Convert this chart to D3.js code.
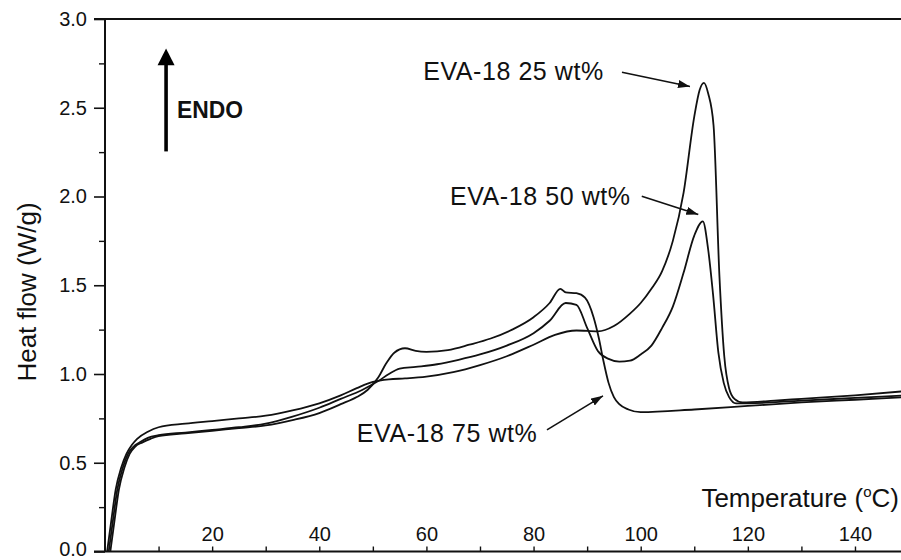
<!DOCTYPE html>
<html>
<head>
<meta charset="utf-8">
<script src="https://cdn.jsdelivr.net/npm/d3@7"></script>
<style>
  html, body { margin: 0; padding: 0; background: #fff; }
  svg { display: block; }
  text { font-family: "Liberation Sans", Arial, Helvetica, sans-serif; fill: #111; }
</style>
</head>
<body>
<svg id="chart" width="901" height="560"></svg>
<script>
// ---------- data ----------
const temps25 = [0.4, 1.2, 2, 3, 4, 5, 6, 8, 10, 15, 20, 25, 30, 35, 40, 44, 47, 50, 53, 56, 60, 65, 70, 75, 80, 84, 88, 92, 95, 98, 100, 102, 104, 106, 108, 110, 111, 111.8, 112.6, 113.6, 114.7, 115.6, 116.5, 117.5, 119, 125, 130, 140, 150];
const heat25  = [0, 0.18, 0.35, 0.47, 0.55, 0.6, 0.635, 0.675, 0.7, 0.72, 0.735, 0.75, 0.765, 0.795, 0.835, 0.88, 0.92, 0.955, 0.97, 0.975, 0.985, 1.01, 1.05, 1.1, 1.165, 1.22, 1.245, 1.24, 1.27, 1.34, 1.40, 1.48, 1.58, 1.75, 2.02, 2.45, 2.6, 2.64, 2.58, 2.4, 1.55, 1.1, 0.92, 0.86, 0.84, 0.85, 0.86, 0.88, 0.905];

const temps50 = [0.7, 1.5, 2.3, 3.3, 4.3, 5.3, 6.5, 8, 10, 15, 20, 25, 30, 35, 40, 44, 48, 51, 53, 55, 58, 62, 66, 70, 75, 80, 83, 86, 88, 90, 92, 94, 96, 98, 100, 102, 104, 106, 108, 110, 111.6, 112.6, 113.5, 114.5, 115.5, 116.5, 117.8, 120, 130, 140, 150];
const heat50  = [0, 0.18, 0.35, 0.47, 0.55, 0.59, 0.615, 0.64, 0.655, 0.67, 0.685, 0.70, 0.72, 0.76, 0.81, 0.86, 0.91, 0.96, 1.0, 1.03, 1.04, 1.055, 1.08, 1.11, 1.16, 1.23, 1.30, 1.40, 1.39, 1.26, 1.13, 1.085, 1.07, 1.075, 1.11, 1.16, 1.26, 1.38, 1.57, 1.78, 1.86, 1.70, 1.45, 1.12, 0.95, 0.87, 0.835, 0.835, 0.85, 0.865, 0.88];

const temps75 = [1.0, 1.8, 2.6, 3.6, 4.6, 5.6, 7, 8.5, 10, 15, 20, 25, 30, 35, 40, 44, 47, 49, 51, 52.5, 54, 56, 58, 60, 64, 68, 72, 76, 80, 83, 85, 86, 88, 89.6, 91.2, 92.2, 93, 94, 95, 96, 97.7, 100, 110, 120, 130, 140, 150];
const heat75  = [0, 0.18, 0.35, 0.47, 0.55, 0.59, 0.615, 0.635, 0.65, 0.665, 0.68, 0.695, 0.71, 0.74, 0.78, 0.83, 0.87, 0.91, 0.98, 1.06, 1.12, 1.145, 1.13, 1.125, 1.135, 1.165, 1.2, 1.25, 1.32, 1.40, 1.48, 1.46, 1.455, 1.43, 1.32, 1.2, 1.08, 0.95, 0.87, 0.83, 0.80, 0.785, 0.80, 0.82, 0.84, 0.855, 0.87];

const xMajorTicks = [20, 40, 60, 80, 100, 120, 140];
const xMinorTicks = [10, 30, 50, 70, 90, 110, 130, 150];
const yMajorTicks = [0.0, 0.5, 1.0, 1.5, 2.0, 2.5, 3.0];
const yMinorTicks = [0.25, 0.75, 1.25, 1.75, 2.25, 2.75];

const seriesLabels = ["EVA-18 25 wt%", "EVA-18 50 wt%", "EVA-18 75 wt%"];
// label anchor (T, v) and arrow from (T, v) to (T, v), in data units
const labelAt    = [[59.4, 2.654], [64.4, 1.954], [47.0, 0.618]];
const arrowFrom  = [[96.5, 2.70], [100.2, 2.001], [82.5, 0.685]];
const arrowTo    = [[109.2, 2.62], [110.75, 1.898], [92.96, 0.877]];

const xTitle = "Temperature (";
const yTitle = "Heat flow (W/g)";
const endoLabel = "ENDO";

// ---------- drawing ----------
const svg = d3.select("#chart");
const x = d3.scaleLinear().domain([0, 150]).range([105, 105 + 150 * 5.357]);
const y = d3.scaleLinear().domain([0, 3]).range([551.5, 19]);

const defs = svg.append("defs");
defs.append("marker").attr("id", "ah").attr("viewBox", "0 0 12 8")
  .attr("refX", 12).attr("refY", 4).attr("markerWidth", 12).attr("markerHeight", 8)
  .attr("markerUnits", "userSpaceOnUse").attr("orient", "auto")
  .append("path").attr("d", "M0,0 L12,4 L0,8 Z").attr("fill", "#111");

// frame: left, top, bottom
svg.append("line").attr("x1", x(0)).attr("x2", x(0)).attr("y1", y(3)).attr("y2", y(0))
  .attr("stroke", "#111").attr("stroke-width", 2);
svg.append("line").attr("x1", x(0) - 11).attr("x2", 901).attr("y1", y(3)).attr("y2", y(3))
  .attr("stroke", "#111").attr("stroke-width", 2.2);
svg.append("line").attr("x1", x(0) - 11).attr("x2", 901).attr("y1", y(0)).attr("y2", y(0))
  .attr("stroke", "#111").attr("stroke-width", 2.2);

// y axis ticks (outward)
const yAxis = svg.append("g").attr("transform", `translate(${x(0)},0)`)
  .call(d3.axisLeft(y).tickValues(yMajorTicks).tickFormat(d3.format(".1f")).tickSize(11).tickPadding(7));
yAxis.select(".domain").remove();
yAxis.selectAll(".tick line").attr("stroke", "#111").attr("stroke-width", 1.6);
yAxis.selectAll(".tick text").attr("font-size", 20).attr("fill", "#111")
  .attr("font-family", "Liberation Sans, Arial, sans-serif");
yAxis.selectAll(".tick").filter(d => d === 0).select("text").attr("dy", "0.2em");
const yMinor = svg.append("g").attr("transform", `translate(${x(0)},0)`)
  .call(d3.axisLeft(y).tickValues(yMinorTicks).tickFormat("").tickSize(6));
yMinor.select(".domain").remove();
yMinor.selectAll(".tick line").attr("stroke", "#111").attr("stroke-width", 1.4);

// x axis ticks (inward) with labels inside the plot
const xAxis = svg.append("g").attr("transform", `translate(0,${y(0)})`)
  .call(d3.axisTop(x).tickValues(xMajorTicks).tickFormat(d3.format("d")).tickSize(5).tickPadding(6));
xAxis.select(".domain").remove();
xAxis.selectAll(".tick line").attr("stroke", "#111").attr("stroke-width", 1.4);
xAxis.selectAll(".tick text").attr("font-size", 20).attr("fill", "#111")
  .attr("font-family", "Liberation Sans, Arial, sans-serif");
const xMinor = svg.append("g").attr("transform", `translate(0,${y(0)})`)
  .call(d3.axisTop(x).tickValues(xMinorTicks).tickFormat("").tickSize(5));
xMinor.select(".domain").remove();
xMinor.selectAll(".tick line").attr("stroke", "#111").attr("stroke-width", 1.4);

// curves
const line = d3.line().x(d => x(d[0])).y(d => y(d[1])).curve(d3.curveMonotoneX);
const series = [
  d3.zip(temps25, heat25),
  d3.zip(temps50, heat50),
  d3.zip(temps75, heat75)
];
svg.append("g").selectAll("path").data(series).join("path")
  .attr("d", line).attr("fill", "none").attr("stroke", "#111")
  .attr("stroke-width", 1.8).attr("stroke-linejoin", "round");

// annotation labels and arrows
seriesLabels.forEach((lab, i) => {
  svg.append("text").attr("x", x(labelAt[i][0])).attr("y", y(labelAt[i][1]))
    .attr("font-size", 25).attr("textLength", 180).attr("lengthAdjust", "spacing").text(lab);
  svg.append("line")
    .attr("x1", x(arrowFrom[i][0])).attr("y1", y(arrowFrom[i][1]))
    .attr("x2", x(arrowTo[i][0])).attr("y2", y(arrowTo[i][1]))
    .attr("stroke", "#111").attr("stroke-width", 1.6).attr("marker-end", "url(#ah)");
});

// ENDO arrow
const endoX = x(11.4);
svg.append("line").attr("x1", endoX).attr("x2", endoX).attr("y1", y(2.254)).attr("y2", y(2.76))
  .attr("stroke", "#000").attr("stroke-width", 3.6);
svg.append("path")
  .attr("d", `M${endoX},${y(2.834)} L${endoX - 8.5},${y(2.74)} L${endoX + 8.5},${y(2.74)} Z`)
  .attr("fill", "#000");
svg.append("text").attr("x", x(13.44)).attr("y", y(2.445))
  .attr("font-size", 24).attr("font-weight", "bold").attr("textLength", 66)
  .attr("lengthAdjust", "spacingAndGlyphs").attr("fill", "#000").text(endoLabel);

// axis titles
const xt = svg.append("text").attr("x", 899).attr("y", 507).attr("text-anchor", "end")
  .attr("font-size", 26);
xt.append("tspan").text(xTitle);
xt.append("tspan").attr("dy", -10).attr("font-size", 15).text("o");
xt.append("tspan").attr("dy", 10).text("C)");

svg.append("text").attr("transform", `translate(36,292) rotate(-90)`)
  .attr("text-anchor", "middle").attr("font-size", 26).text(yTitle);
</script>
</body>
</html>
